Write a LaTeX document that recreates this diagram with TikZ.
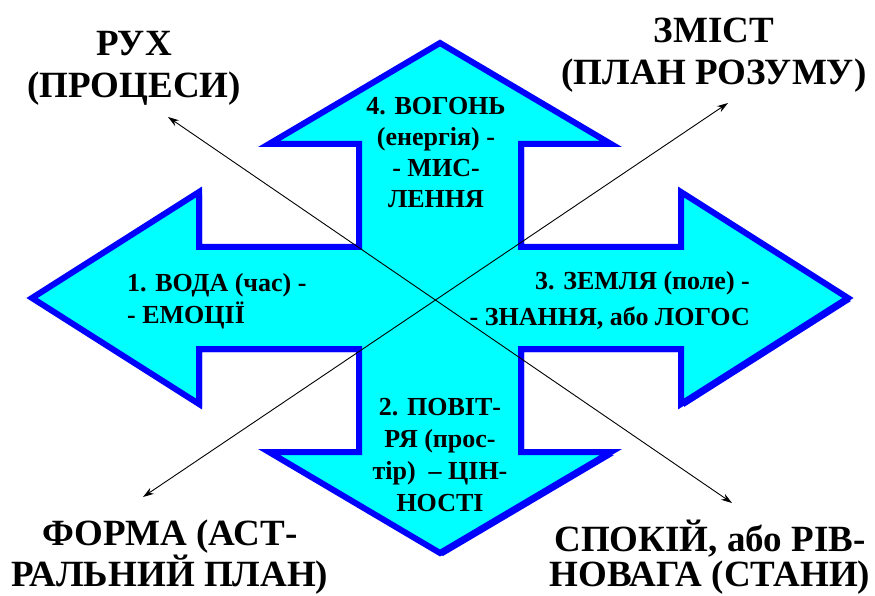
\documentclass[tikz,border=0pt]{standalone}
\usepackage{fontspec}
\setmainfont{Liberation Serif}
\usetikzlibrary{arrows.meta}
\definecolor{crossfill}{RGB}{0,255,255}
\definecolor{crossline}{RGB}{0,0,255}
\tikzstyle{corner} = [align=center, inner sep=0pt, font=\bfseries\fontsize{37}{42}\selectfont]
\tikzstyle{inside} = [inner sep=0pt, font=\bfseries\fontsize{26}{32}\selectfont]
\tikzstyle{diag} = [line width=0.9pt, {Stealth[length=11pt,width=7pt]}-{Stealth[length=11pt,width=7pt]}]
\newcommand{\crosspath}{(-408,0) -- (-241,106) -- (-241,51) -- (-81,51) -- (-81,154) -- (-171,154) -- (0,255) -- (171,154) -- (81,154) -- (81,51) -- (241,51) -- (241,106) -- (408,0) -- (241,-106) -- (241,-51) -- (81,-51) -- (81,-154) -- (171,-154) -- (0,-255) -- (-171,-154) -- (-81,-154) -- (-81,-51) -- (-241,-51) -- (-241,-106) -- cycle}

\begin{document}
\begin{tikzpicture}[x=1pt, y=1pt]
    \useasboundingbox (0,0) rectangle (875,595);
    % the cross of four arrows
    \begin{scope}[shift={(443,294)}]
        \fill [crossline] \crosspath;
    \end{scope}
    \begin{scope}[shift={(440,297)}]
        \draw [crossline, fill=crossfill, line width=6pt, line join=miter] \crosspath;
    \end{scope}
    % texts in the arrows
    \node (water) [inside, anchor=west, align=left] at (127,294) {1. ВОДА (час) -\\- ЕМОЦІЇ};
    \node (earth) [inside, anchor=east, align=right, font=\bfseries\fontsize{26}{36}\selectfont] at (750,295) {3. ЗЕМЛЯ (поле) -\\- ЗНАННЯ, або ЛОГОС};
    \node (fire) [inside, align=center, font=\bfseries\fontsize{26}{31}\selectfont] at (436,442) {4. ВОГОНЬ\\(енергія) -\\- МИС-\\ЛЕННЯ};
    \node (air) [inside, align=center] at (440,140) {2. ПОВІТ-\\РЯ (прос-\\тір)~~– ЦІН-\\НОСТІ};
    % texts in the corners
    \node (motion) [corner] at (134,527) {РУХ\\(ПРОЦЕСИ)};
    \node (content) [corner] at (714,540) {ЗМІСТ\\(ПЛАН РОЗУМУ)};
    \node (shape) [corner, font=\bfseries\fontsize{37}{35}\selectfont] at (170,38) {ФОРМА (АСТ-\\РАЛЬНИЙ ПЛАН)};
    \node (rest) [corner, font=\bfseries\fontsize{37}{35}\selectfont] at (710,38) {СПОКІЙ, або РІВ-\\НОВАГА (СТАНИ)};
    % the two diagonals
    \coordinate (motionend) at (168,478);
    \coordinate (restend) at (732,92);
    \coordinate (shapeend) at (143,98);
    \coordinate (contentend) at (728,492);
    \draw [diag] (motionend) -- (restend);
    \draw [diag] (shapeend) -- (contentend);
\end{tikzpicture}
\end{document}
